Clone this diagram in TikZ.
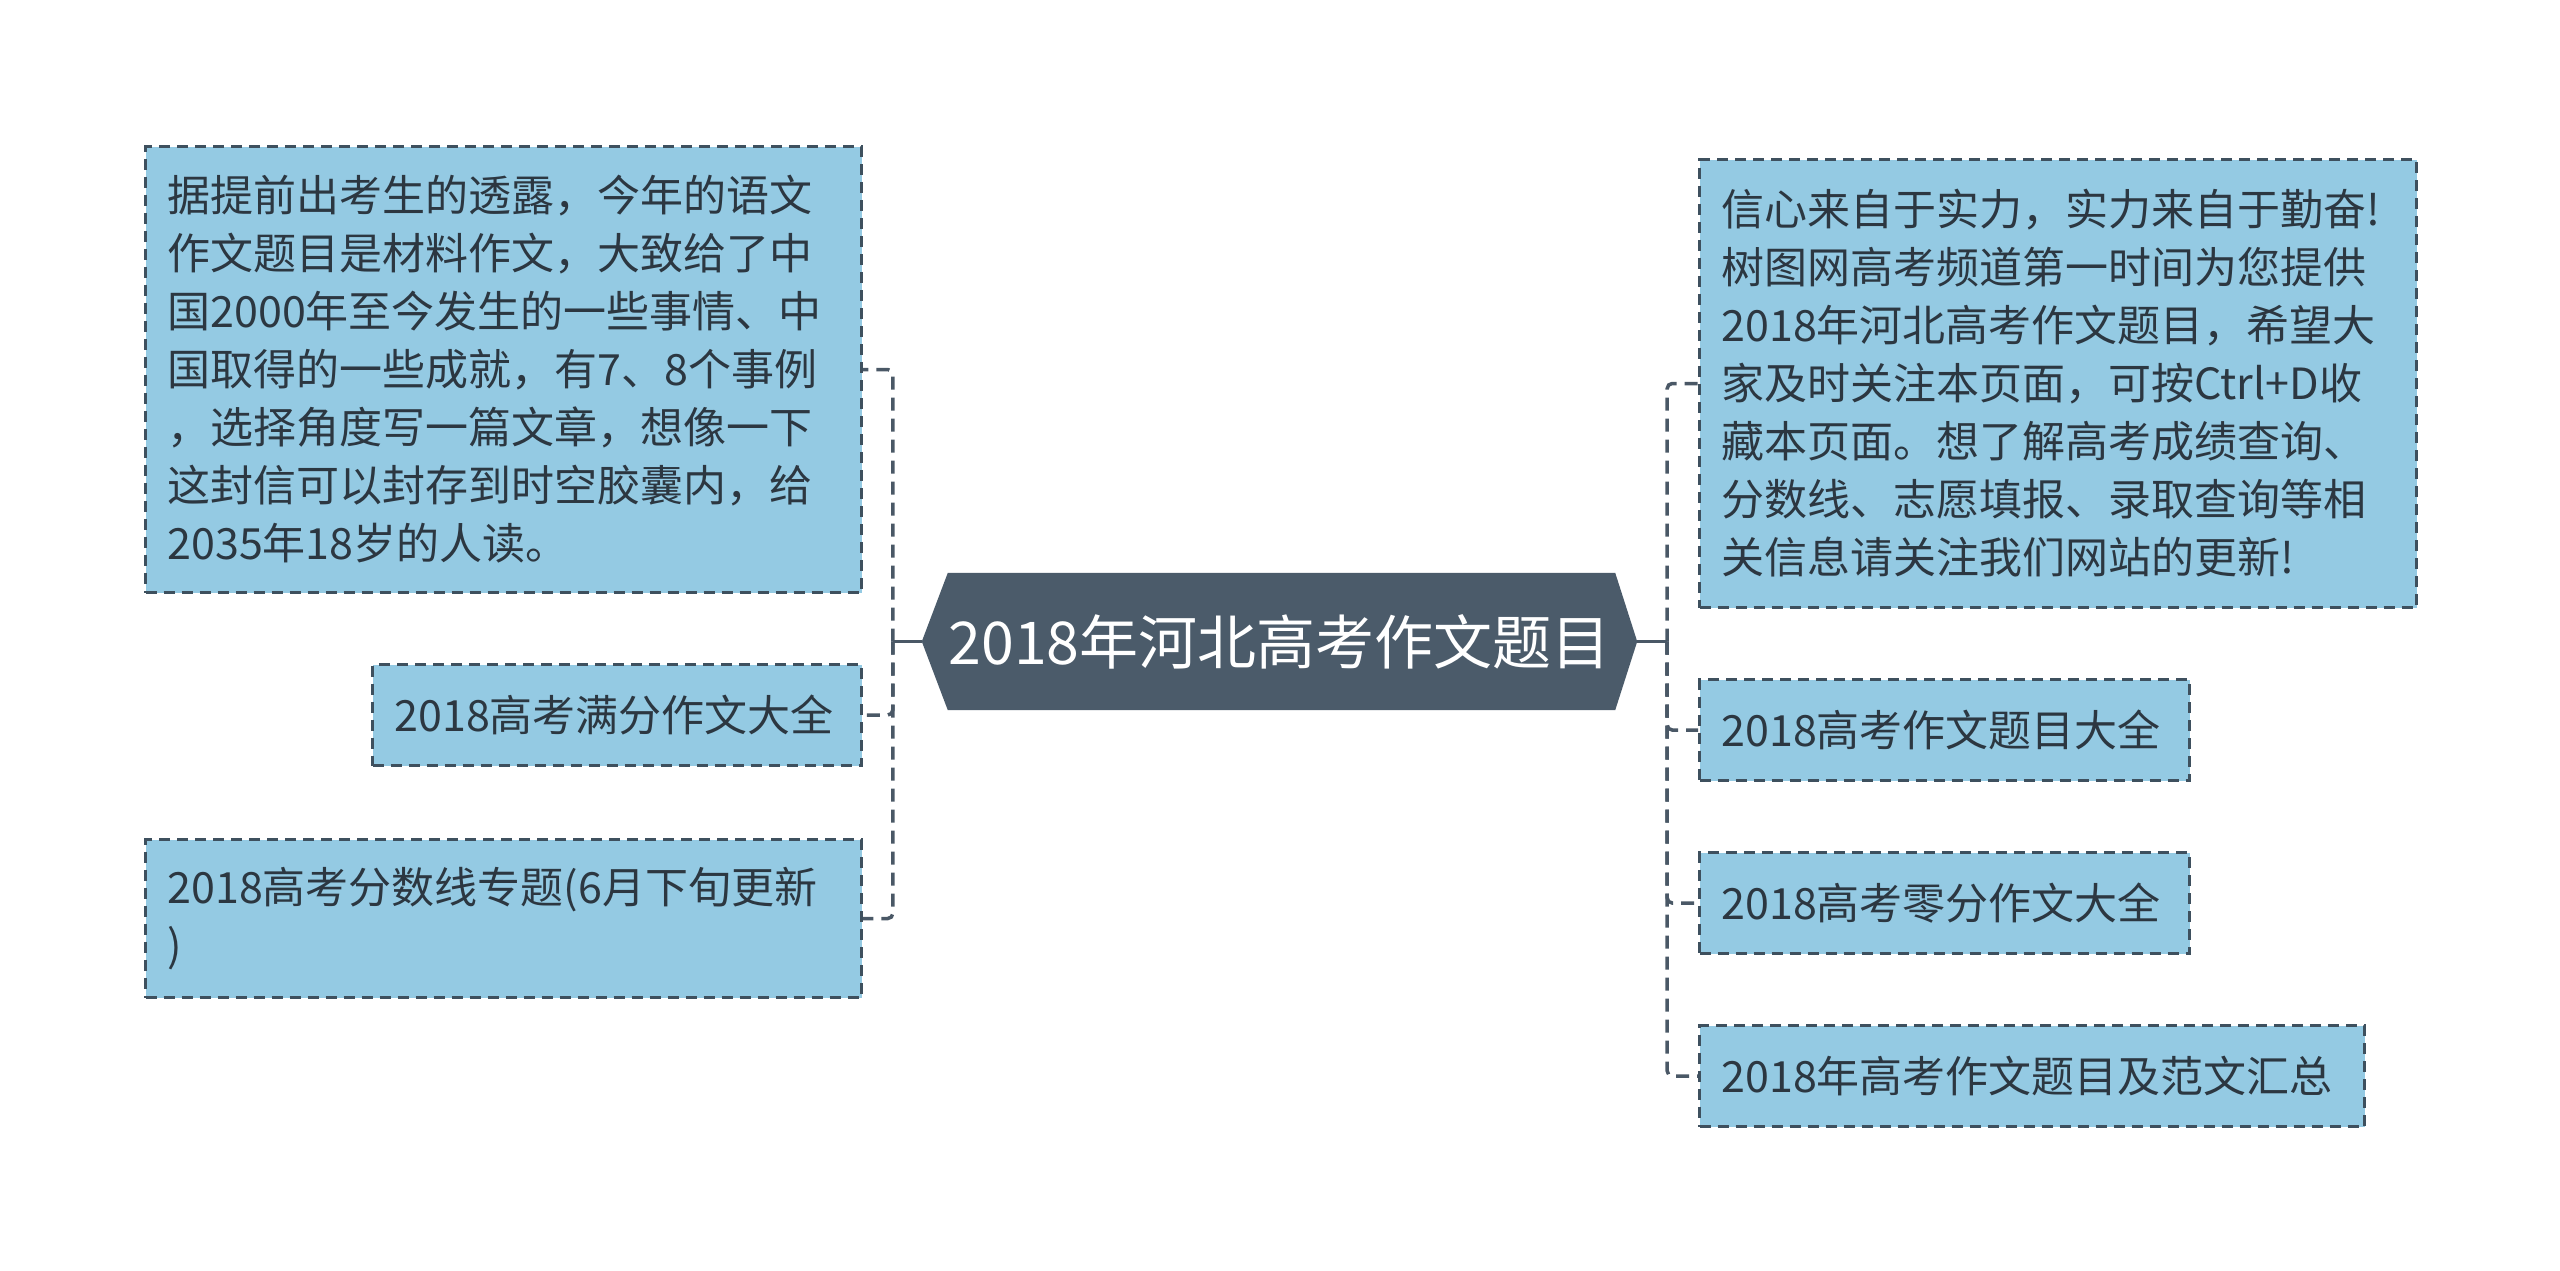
\documentclass[tikz,border=0pt]{standalone}
\usepackage{fontspec}
\setmainfont{Noto Sans CJK SC}
\usetikzlibrary{backgrounds}
\definecolor{boxfill}{HTML}{94CAE3}
\definecolor{boxline}{HTML}{3E505E}
\definecolor{hubfill}{HTML}{4B5B6A}
\definecolor{txt}{HTML}{2C3741}
\definecolor{linkc}{HTML}{4A5866}
\tikzset{
  leaf/.style={draw=boxline, fill=boxfill, line width=3pt, dash pattern=on 11pt off 7pt,
    anchor=north west, inner xsep=22pt, inner ysep=0pt, align=left, text=txt,
    font=\fontsize{43pt}{58pt}\selectfont},
  hub/.style={minimum width=715pt, minimum height=137pt, inner sep=0pt, text=white,
    font=\fontsize{59pt}{72pt}\selectfont},
  link/.style={draw=linkc, line width=3.5pt, dash pattern=on 13pt off 8pt, rounded corners=5pt},
  stub/.style={draw=linkc, line width=3.5pt},
}
\begin{document}
\begin{tikzpicture}[x=1pt,y=-1pt]
\useasboundingbox (0,0) rectangle (2560,1270);
\node[hub] (c) at (1279.5,641.5) {2018年河北高考作文题目};
\begin{scope}[on background layer]
  \fill[white] (0,0) rectangle (2560,1270);
  \fill[hubfill] (c.west) -- ([xshift=26pt]c.north west) -- ([xshift=-22pt]c.north east)
    -- (c.east) -- ([xshift=-22pt]c.south east) -- ([xshift=26pt]c.south west) -- cycle;
\end{scope}
% left side
\node[leaf, minimum width=716pt, minimum height=446pt, text width=672pt] (l1) at (144,145)
  {据提前出考生的透露，今年的语文\\作文题目是材料作文，大致给了中\\国2000年至今发生的一些事情、中\\国取得的一些成就，有7、8个事例\\，选择角度写一篇文章，想像一下\\这封信可以封存到时空胶囊内，给\\2035年18岁的人读。};
\node[leaf, minimum width=489pt, minimum height=101pt, text width=445pt] (l2) at (371,663)
  {2018高考满分作文大全};
\node[leaf, minimum width=716pt, minimum height=158pt, text width=672pt] (l3) at (144,838)
  {2018高考分数线专题(6月下旬更新\\)};
% right side
\node[leaf, minimum width=717pt, minimum height=448pt, text width=673pt] (r1) at (1698,158)
  {信心来自于实力，实力来自于勤奋!\\树图网高考频道第一时间为您提供\\2018年河北高考作文题目，希望大\\家及时关注本页面，可按Ctrl+D收\\藏本页面。想了解高考成绩查询、\\分数线、志愿填报、录取查询等相\\关信息请关注我们网站的更新!};
\node[leaf, minimum width=490pt, minimum height=101pt, text width=446pt] (r2) at (1698,678)
  {2018高考作文题目大全};
\node[leaf, minimum width=490pt, minimum height=101pt, text width=446pt] (r3) at (1698,851)
  {2018高考零分作文大全};
\node[leaf, minimum width=665pt, minimum height=101pt, text width=621pt] (r4) at (1698,1024)
  {2018年高考作文题目及范文汇总};
% connectors
\coordinate (lj) at ([xshift=-29pt]c.west);
\coordinate (rj) at ([xshift=30pt]c.east);
\draw[stub] (c.west) -- (lj);
\draw[stub] (c.east) -- (rj);
\draw[link] (lj) |- (l1.east);
\draw[link] (lj) |- (l2.east);
\draw[link] (lj) |- (l3.east);
\draw[link] (rj) |- (r1.west);
\draw[link] (rj) |- (r2.west);
\draw[link] (rj) |- (r3.west);
\draw[link] (rj) |- (r4.west);
\end{tikzpicture}
\end{document}
